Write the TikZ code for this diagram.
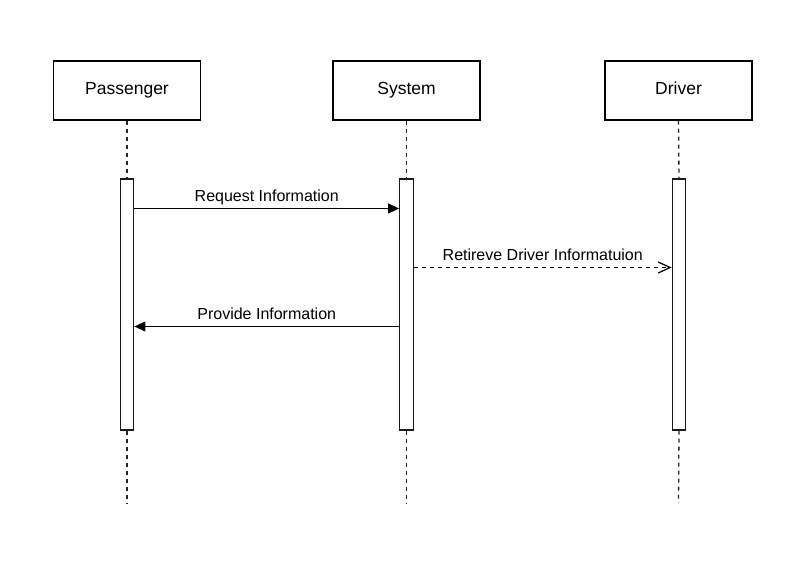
\documentclass[tikz,border=0pt]{standalone}
\usepackage{fontspec}
\setmainfont{Liberation Sans}
\usetikzlibrary{arrows.meta,calc}
\begin{document}
\begin{tikzpicture}[x=1pt,y=-1pt,
  actor/.style={draw=black,line width=1.3pt,minimum width=147pt,minimum height=59pt,inner sep=0pt},
  actbar/.style={draw=black!90,fill=white,line width=1.3pt,minimum width=13.5pt,minimum height=251pt,inner sep=0pt},
  lifeline/.style={draw=black!85,line width=1.3pt,dash pattern=on 4pt off 4pt},
  msg/.style={draw=black,line width=1.2pt},
  msglabel/.style={font=\fontsize{16}{18}\selectfont,anchor=base,inner sep=0pt},
  actlabel/.style={font=\fontsize{17.5}{20}\selectfont,anchor=base,inner sep=0pt},
  solidtip/.style={-{Triangle[length=11pt,width=10pt]}},
  opentip/.style={-{Straight Barb[length=12pt,width=11pt,line width=1.2pt]}}
]
\useasboundingbox (0,0) rectangle (810,567);
% actors
\node[actor] (P) at (127,90.5) {};
\node[actor] (S) at (406.5,90.5) {};
\node[actor] (D) at (678.5,90.5) {};
\node[actlabel] (Pt) at (127,94.3) {Passenger};
\node[actlabel] (St) at (406.5,94.3) {System};
\node[actlabel] (Dt) at (678.5,94.3) {Driver};
% lifeline ends
\coordinate (Pend) at (127,503);
\coordinate (Send) at (406.5,503);
\coordinate (Dend) at (678.5,503);
% activation bars
\node[actbar] (bP) at (127,304.5) {};
\node[actbar] (bS) at (406.5,304.5) {};
\node[actbar] (bD) at (679,304.5) {};
\draw[lifeline] (P.south) -- (bP.north);
\draw[lifeline] (S.south) -- (bS.north);
\draw[lifeline] (D.south) -- (bD.north);
\draw[lifeline] (bP.south) -- (Pend);
\draw[lifeline] (bS.south) -- (Send);
\draw[lifeline] (bD.south) -- (Dend);
% message levels
\coordinate (m1) at (0,208.5);
\coordinate (m2) at (0,267.5);
\coordinate (m3) at (0,326.5);
\draw[msg,solidtip] (bP.east |- m1) -- (bS.west |- m1);
\draw[msg,opentip,dash pattern=on 4pt off 4pt] (bS.east |- m2) -- (bD.west |- m2);
\draw[msg,solidtip] (bS.west |- m3) -- (bP.east |- m3);
\node[msglabel] (l1) at ($(bP.east |- m1)!0.5!(bS.west |- m1)+(0,-7.5)$) {Request Information};
\node[msglabel] (l2) at ($(bS.east |- m2)!0.5!(bD.west |- m2)+(0,-7.5)$) {Retireve Driver Informatuion};
\node[msglabel] (l3) at ($(bS.west |- m3)!0.5!(bP.east |- m3)+(0,-7.5)$) {Provide Information};
\end{tikzpicture}
\end{document}
